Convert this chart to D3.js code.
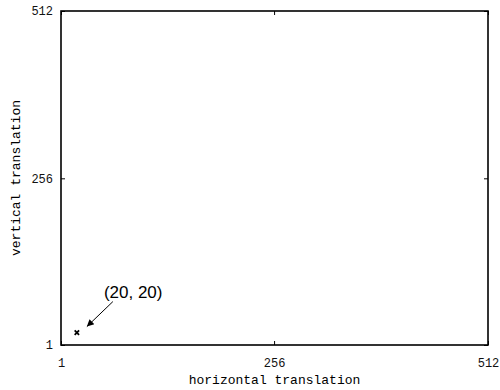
<!DOCTYPE html>
<html>
<head>
<meta charset="utf-8">
<script src="https://cdn.jsdelivr.net/npm/d3@7"></script>
<style>
  body { margin: 0; background: #fff; }
  svg { display: block; }
</style>
</head>
<body>
<svg></svg>
<script>
// chart data
let xTicks = [1, 256, 512];
let yTicks = [1, 256, 512];
let points = [{ x: 20, y: 20 }];
let note = "(20, 20)";
let xTitle = "horizontal translation";
let yTitle = "vertical translation";

(() => {
    let width = 500,
        height = 390;
    let mL = 61, mT = 11, mR = 488, mB = 345;

    let svg = d3.select('svg')
        .attr('width', width)
        .attr('height', height);

    let x = d3.scaleLinear().domain([1, 512]).range([mL, mR]);
    let y = d3.scaleLinear().domain([1, 512]).range([mB, mT]);

    let mono = "'Liberation Mono', 'Courier New', monospace";

    // inward ticks on all four sides, labels only bottom and left
    let axes = [
        { a: d3.axisBottom(x).tickValues(xTicks), t: [0, mB], side: 'b' },
        { a: d3.axisTop(x).tickValues(xTicks), t: [0, mT], side: 't' },
        { a: d3.axisLeft(y).tickValues(yTicks), t: [mL, 0], side: 'l' },
        { a: d3.axisRight(y).tickValues(yTicks), t: [mR, 0], side: 'r' }
    ];
    axes.forEach(o => {
        let labels = o.side === 'b' || o.side === 'l';
        let g = svg.append('g')
            .attr('transform', 'translate(' + o.t[0] + ',' + o.t[1] + ')')
            .call(o.a.tickSizeInner(-4).tickSizeOuter(0)
                .tickFormat(labels ? d3.format('d') : ''));
        g.select('.domain').remove();
        g.selectAll('line').attr('stroke', '#000');
        let txt = g.selectAll('text')
            .attr('font-family', mono)
            .attr('font-size', 12)
            .attr('fill', '#111');
        if (o.side === 'b') txt.attr('y', 13);
        if (o.side === 'l') txt.attr('x', -8);
    });

    // plot box
    svg.append('rect')
        .attr('x', mL)
        .attr('y', mT)
        .attr('width', mR - mL)
        .attr('height', mB - mT)
        .attr('fill', 'none')
        .attr('stroke', '#000')
        .attr('stroke-width', 1.6);

    // marker
    svg.selectAll('.pt')
        .data(points).enter()
        .append('path')
        .attr('class', 'pt')
        .attr('d', d => {
            let cx = x(d.x), cy = y(d.y), r = 2.2;
            return 'M' + (cx - r) + ',' + (cy - r) + 'L' + (cx + r) + ',' + (cy + r) +
                'M' + (cx - r) + ',' + (cy + r) + 'L' + (cx + r) + ',' + (cy - r);
        })
        .attr('stroke', '#000')
        .attr('stroke-width', 1.8);

    // annotation arrow
    svg.append('defs').append('marker')
        .attr('id', 'head')
        .attr('viewBox', '0 0 10 10')
        .attr('refX', 10).attr('refY', 5)
        .attr('markerWidth', 10).attr('markerHeight', 7)
        .attr('markerUnits', 'userSpaceOnUse')
        .attr('orient', 'auto')
        .append('path')
        .attr('d', 'M0,0L10,5L0,10Z')
        .attr('fill', '#000');

    let p0 = points[0];
    svg.append('line')
        .attr('x1', x(p0.x) + 36).attr('y1', y(p0.y) - 31)
        .attr('x2', x(p0.x) + 10).attr('y2', y(p0.y) - 6)
        .attr('stroke', '#000')
        .attr('stroke-width', 1)
        .attr('marker-end', 'url(#head)');

    svg.append('text')
        .attr('x', x(p0.x) + 27)
        .attr('y', y(p0.y) - 35)
        .attr('font-family', "'Liberation Sans', Arial, sans-serif")
        .attr('font-size', 17)
        .text(note);

    // axis titles
    svg.append('text')
        .attr('x', (mL + mR) / 2)
        .attr('y', 384)
        .attr('text-anchor', 'middle')
        .attr('font-family', mono)
        .attr('font-size', 13)
        .text(xTitle);

    svg.append('text')
        .attr('transform', 'translate(20,' + (mT + mB) / 2 + ') rotate(-90)')
        .attr('text-anchor', 'middle')
        .attr('font-family', mono)
        .attr('font-size', 13)
        .text(yTitle);
})();
</script>
</body>
</html>
